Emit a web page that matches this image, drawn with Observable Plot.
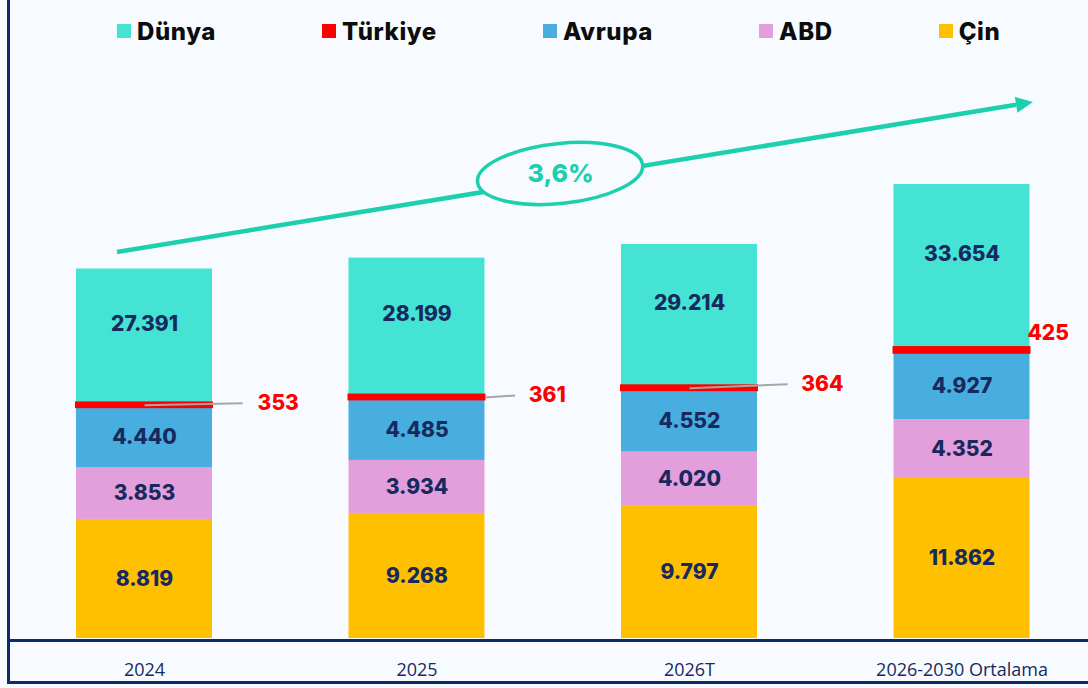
<!DOCTYPE html>
<html>
<head>
<meta charset="utf-8">
<script src="https://cdn.jsdelivr.net/npm/d3@7"></script>
<script src="https://cdn.jsdelivr.net/npm/@observablehq/plot@0.6"></script>
<style>
  html, body { margin: 0; padding: 0; background: #f7fbff; }
  #wrap { position: relative; width: 1088px; height: 688px; background: #f7fbff; overflow: hidden; font-family: "Open Sans", sans-serif; }
  #legend { position: absolute; top: 0; left: 117px; height: 62px; display: flex; align-items: center; gap: 106px; }
  .item { display: flex; align-items: center; gap: 6px; font-family: Inter, "Noto Sans", sans-serif; font-weight: 800; font-size: 24px; color: #0d0d0d; letter-spacing: 0.6px; }
  .sw { width: 14px; height: 14px; display: inline-block; }
  #chart { position: absolute; top: 62px; left: 0; }
  .bl { position: absolute; left: 7px; top: 0; width: 3px; height: 684px; background: #0d2a6b; }
  .bb { position: absolute; left: 7px; top: 681px; width: 1081px; height: 3px; background: #0d2a6b; }
</style>
</head>
<body>
<div id="wrap">
  <div id="legend"></div>
  <div id="chart"></div>
  <div class="bl"></div>
  <div class="bb"></div>
</div>
<script>
// ---- data ----
const categories = ["2024", "2025", "2026T", "2026-2030 Ortalama"];
const dunya   = [27391, 28199, 29214, 33654];
const turkiye = [353, 361, 364, 425];
const avrupa  = [4440, 4485, 4552, 4927];
const abd     = [3853, 3934, 4020, 4352];
const cin     = [8819, 9268, 9797, 11862];
const legendNames = ["Dünya", "Türkiye", "Avrupa", "ABD", "Çin"];
const legendColors = ["#45e3d4", "#ff0000", "#47aedf", "#e39fdc", "#ffc000"];
const growthLabel = "3,6%";

// ---- layout (annotation placement, not data) ----
const teal = "#1ccfae";
const navy = "#17295e";
const bg = "#f7fbff";
const leaderFrom = [0, 0.25, 0, null];       // leader start offset (band units) or none
const turkLabelX = [0.415, 0.41, 0.41, 0.24]; // label start offset (band units)
const turkLabelUpPx = [2, 2, 4, 14];
const yMax = 42700, plotH = 626, baseY = 576;
const upx = yMax / baseY; // data units per pixel
const pxPerBand = 272.5, firstCenter = 144;
const trend = {x1: -0.099, y1: 28614, x2: 3.262, y2: 39734};
const badge = {x: 1.527, y: 34434, rx: 83, ry: 30, rot: -6};

const fmt = d3.formatLocale({decimal: ",", thousands: ".", grouping: [3], currency: ["", ""]}).format(",d");

// legend
const legend = d3.select("#legend");
legendNames.forEach((n, i) => {
  const it = legend.append("div").attr("class", "item");
  it.append("span").attr("class", "sw").style("background", legendColors[i]);
  it.append("span").text(n);
});

// stacked rows, bottom to top
const rows = [];
categories.forEach((c, i) => {
  const parts = [
    ["Çin", cin[i]],
    ["ABD", abd[i]],
    ["Avrupa", avrupa[i]],
    ["Türkiye", turkiye[i]],
    ["Dünya", dunya[i] - cin[i] - abd[i] - avrupa[i] - turkiye[i]]
  ];
  let acc = 0;
  parts.forEach(([s, v]) => {
    const shown = s === "Dünya" ? dunya[i] : v;
    rows.push({cat: c, i, series: s, y1: acc, y2: acc + v, mid: acc + v / 2, label: fmt(shown), value: shown});
    acc += v;
  });
});
const turkRows = rows.filter(d => d.series === "Türkiye");
const dunyaRows = rows.filter(d => d.series === "Dünya");
const innerRows = rows.filter(d => d.series !== "Türkiye" && d.series !== "Dünya");

function trendDecor(index, scales, values, dimensions, context) {
  const sx = scales.x, sy = scales.y;
  const ax = sx(trend.x1), ay = sy(trend.y1), bx = sx(trend.x2), by = sy(trend.y2);
  const ang = Math.atan2(by - ay, bx - ax);
  const ux = Math.cos(ang), uy = Math.sin(ang);
  const head = 17, hw = 8;
  const g = d3.create("svg:g");
  g.append("line")
    .attr("x1", ax).attr("y1", ay)
    .attr("x2", bx - ux * head).attr("y2", by - uy * head)
    .attr("stroke", teal).attr("stroke-width", 4.5);
  const baseX = bx - ux * head, baseY2 = by - uy * head;
  g.append("polygon")
    .attr("points", [[bx, by], [baseX - uy * hw, baseY2 + ux * hw], [baseX + uy * hw, baseY2 - ux * hw]].map(p => p.join(",")).join(" "))
    .attr("fill", teal);
  const cx = sx(badge.x), cy = sy(badge.y);
  g.append("ellipse")
    .attr("cx", cx).attr("cy", cy).attr("rx", badge.rx).attr("ry", badge.ry)
    .attr("transform", `rotate(${badge.rot} ${cx} ${cy})`)
    .attr("fill", bg).attr("stroke", teal).attr("stroke-width", 3.5);
  return g.node();
}

const chart = Plot.plot({
  width: 1088,
  height: plotH,
  marginTop: 0,
  marginBottom: plotH - baseY,
  marginLeft: 0,
  marginRight: 0,
  style: {background: "transparent", color: navy, fontFamily: "'Open Sans', sans-serif", fontSize: "18px"},
  x: {domain: [-firstCenter / pxPerBand, (1088 - firstCenter) / pxPerBand], ticks: [0, 1, 2, 3], tickFormat: i => categories[i], tickSize: 0, tickPadding: 25, label: null},
  y: {domain: [0, yMax], axis: null},
  color: {domain: legendNames, range: legendColors},
  marks: [
    Plot.rect(rows, {x1: d => d.i - 0.2495, x2: d => d.i + 0.2495, y1: "y1", y2: "y2", fill: "series"}),
    Plot.rect(turkRows, {x1: d => d.i - 0.2495, x2: d => d.i + 0.2495, y1: "y1", y2: "y2", fill: legendColors[1], insetLeft: -1, insetRight: -1, insetTop: -1, insetBottom: -1}),
    Plot.ruleY([0], {x1: (8 - firstCenter) / pxPerBand, x2: (1088 - firstCenter) / pxPerBand, stroke: "#0d2a6b", strokeWidth: 3, dy: 2}),
    Plot.link(turkRows.filter(d => leaderFrom[d.i] !== null), {
      x1: d => d.i + leaderFrom[d.i], y1: "mid",
      x2: d => d.i + 0.36, y2: d => d.mid + turkLabelUpPx[d.i] * upx,
      stroke: "#a6a6a6", strokeWidth: 2
    }),
    Plot.text(turkRows, {
      x: d => d.i + turkLabelX[d.i],
      y: d => (d.i === 3 ? d.y2 : d.mid) + turkLabelUpPx[d.i] * upx,
      text: "label", textAnchor: "start", fill: "#ff0000", fontWeight: 800, fontSize: 21,
      fontFamily: "Inter, 'Noto Sans', sans-serif"
    }),
    Plot.text(innerRows, {x: "i", y: "mid", text: "label", fill: navy, fontWeight: 800, fontSize: 21, fontFamily: "Inter, 'Noto Sans', sans-serif"}),
    Plot.text(dunyaRows, {x: "i", y: "mid", dy: -12, text: "label", fill: navy, fontWeight: 800, fontSize: 21, fontFamily: "Inter, 'Noto Sans', sans-serif"}),
    trendDecor,
    Plot.text([growthLabel], {x: badge.x, y: badge.y, text: d => d, fill: teal, fontWeight: 800, fontSize: 25, fontFamily: "Inter, 'Noto Sans', sans-serif"})
  ]
});
document.getElementById("chart").appendChild(chart);
</script>
</body>
</html>
